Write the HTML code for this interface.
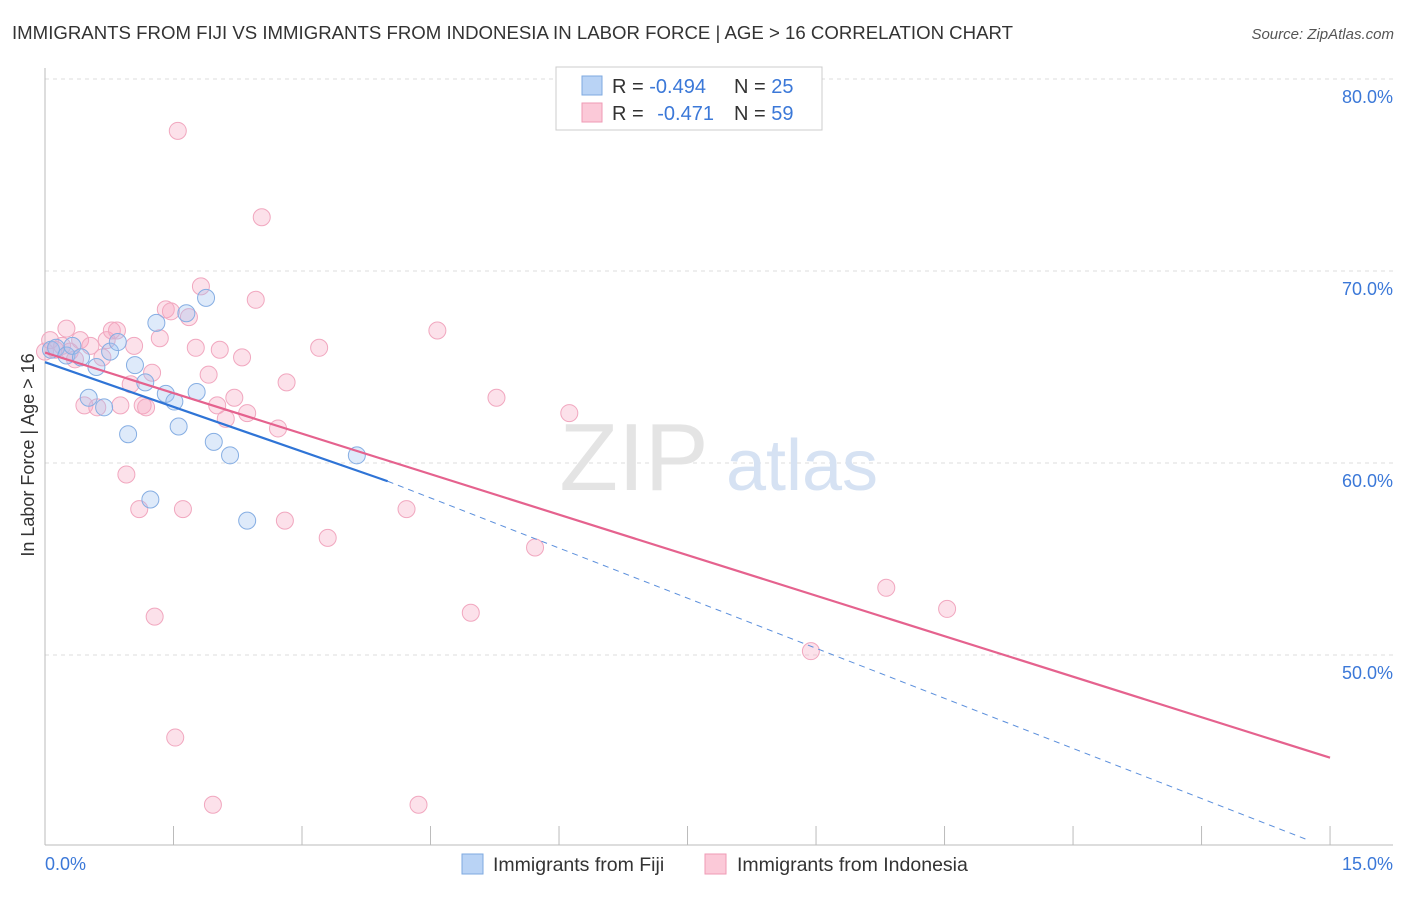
<!DOCTYPE html>
<html><head><meta charset="utf-8"><style>
body{margin:0;background:#fff;font-family:"Liberation Sans",sans-serif}
svg text{font-family:"Liberation Sans",sans-serif}
</style></head><body>
<svg width="1406" height="892" viewBox="0 0 1406 892">
<text x="12" y="39" font-size="18.5" fill="#333" textLength="1001" lengthAdjust="spacingAndGlyphs">IMMIGRANTS FROM FIJI VS IMMIGRANTS FROM INDONESIA IN LABOR FORCE | AGE &gt; 16 CORRELATION CHART</text>
<text x="1394" y="39" font-size="15" fill="#555" font-style="italic" text-anchor="end">Source: ZipAtlas.com</text>
<g id="grid"></g>
<text x="634" y="490" font-size="96" fill="#e4e4e4" font-family="Liberation Serif" text-anchor="middle">ZIP</text>
<text x="802" y="490" font-size="72" fill="#d6e2f3" text-anchor="middle">atlas</text>
<text x="34" y="455" font-size="18" fill="#333" text-anchor="middle" transform="rotate(-90 34 455)">In Labor Force | Age &gt; 16</text>
<g id="pts"></g>
<g id="lines"></g>
<g>
<rect x="556" y="67" width="266" height="63" fill="#fff" stroke="#ccc"/>
<rect x="582" y="76" width="20" height="19" fill="#b9d3f5" stroke="#7ea9e0"/>
<rect x="582" y="103" width="20" height="19" fill="#fbc9d8" stroke="#ef9ab5"/>
<text x="612" y="93" font-size="20" fill="#333">R = <tspan fill="#3b78d8">-0.494</tspan><tspan x="734">N = </tspan><tspan fill="#3b78d8">25</tspan></text>
<text x="612" y="120" font-size="20" fill="#333">R = <tspan fill="#3b78d8" dx="8">-0.471</tspan><tspan x="734">N = </tspan><tspan fill="#3b78d8">59</tspan></text>
</g>
<g>
<rect x="462" y="854" width="21" height="20" fill="#b9d3f5" stroke="#7ea9e0"/>
<text x="493" y="871" font-size="19.5" fill="#333">Immigrants from Fiji</text>
<rect x="705" y="854" width="21" height="20" fill="#fbc9d8" stroke="#ef9ab5"/>
<text x="737" y="871" font-size="19.5" fill="#333">Immigrants from Indonesia</text>
</g>
<text x="45" y="870" font-size="18" fill="#3b78d8">0.0%</text>
<text x="1393" y="870" font-size="18" fill="#3b78d8" text-anchor="end">15.0%</text>
</svg>
<script>
const yTicks=[80,70,60,50];
const yTickLabels=["80.0%","70.0%","60.0%","50.0%"];
const xTicks=[0,1.5,3,4.5,6,7.5,9,10.5,12,13.5,15];
const fijiX=[0.07,0.13,0.25,0.32,0.42,0.51,0.6,0.69,0.76,0.85,0.97,1.05,1.17,1.23,1.3,1.41,1.51,1.56,1.65,1.77,1.88,1.97,2.16,2.36,3.64];
const fijiY=[65.9,66.0,65.6,66.1,65.5,63.4,65.0,62.9,65.8,66.3,61.5,65.1,64.2,58.1,67.3,63.6,63.2,61.9,67.8,63.7,68.6,61.1,60.4,57.0,60.4];
const indoX=[0,0.06,0.12,0.2,0.25,0.29,0.35,0.41,0.46,0.53,0.61,0.67,0.72,0.78,0.84,0.88,0.95,1.0,1.04,1.1,1.14,1.18,1.25,1.28,1.34,1.41,1.47,1.52,1.55,1.61,1.68,1.76,1.82,1.91,1.96,2.01,2.04,2.11,2.21,2.3,2.36,2.46,2.53,2.72,2.8,2.82,3.2,3.3,4.22,4.36,4.58,4.97,5.27,5.72,6.12,8.94,9.82,10.53];
const indoY=[65.8,66.4,65.9,66.1,67.0,65.8,65.4,66.4,63.0,66.1,62.9,65.5,66.4,66.9,66.9,63.0,59.4,64.1,66.1,57.6,63.0,62.9,64.7,52.0,66.5,68.0,67.9,45.7,77.3,57.6,67.6,66.0,69.2,64.6,42.2,63.0,65.9,62.3,63.4,65.5,62.6,68.5,72.8,61.8,57.0,64.2,66.0,56.1,57.6,42.2,66.9,52.2,63.4,55.6,62.6,50.2,53.5,52.4];
const fijiLine=[0,65.25,4.0,59.05];
const fijiDash=[4.0,59.05,14.75,40.35];
const indoLine=[0,65.75,15,44.65];
const X=v=>45+v*85.67, Y=v=>79+(80-v)*19.2;
const NS="http://www.w3.org/2000/svg";
function mk(t,a,p){const e=document.createElementNS(NS,t);for(const k in a)e.setAttribute(k,a[k]);document.getElementById(p).appendChild(e);return e;}
yTicks.forEach((t,i)=>{
 const g=mk('line',{x1:45,x2:1393,y1:Y(t),y2:Y(t),stroke:'#ddd','stroke-dasharray':'4,4'},'grid');
 
 
 const l=mk('text',{x:1393,y:Y(t)+24,'font-size':18,fill:'#3b78d8','text-anchor':'end'},'grid');l.textContent=yTickLabels[i];
 
 
});
const ax=mk('line',{x1:45,x2:45,y1:68,y2:845,stroke:'#bbb'},'grid');


const bx=mk('line',{x1:45,x2:1393,y1:845,y2:845,stroke:'#bbb'},'grid');


xTicks.forEach(t=>{const e=mk('line',{x1:X(t),x2:X(t),y1:826,y2:845,stroke:'#bbb'},'grid');
 
 });
indoX.forEach((x,i)=>{const c=mk('circle',{cx:X(x),cy:Y(indoY[i]),r:8.5,fill:'rgba(246,170,196,0.35)',stroke:'#f1a7bf','stroke-width':1},'pts');
 
 });
fijiX.forEach((x,i)=>{const c=mk('circle',{cx:X(x),cy:Y(fijiY[i]),r:8.5,fill:'rgba(160,196,240,0.35)',stroke:'#86aee3','stroke-width':1},'pts');
 
 });
let e=mk('line',{x1:X(indoLine[0]),y1:Y(indoLine[1]),x2:X(indoLine[2]),y2:Y(indoLine[3]),stroke:'#e5628e','stroke-width':2.2},'lines');


e=mk('line',{x1:X(fijiLine[0]),y1:Y(fijiLine[1]),x2:X(fijiLine[2]),y2:Y(fijiLine[3]),stroke:'#2f74d6','stroke-width':2.2},'lines');


e=mk('line',{x1:X(fijiDash[0]),y1:Y(fijiDash[1]),x2:X(fijiDash[2]),y2:Y(fijiDash[3]),stroke:'#5b8fdc','stroke-width':1,'stroke-dasharray':'6,5'},'lines');


</script>
</body></html>
